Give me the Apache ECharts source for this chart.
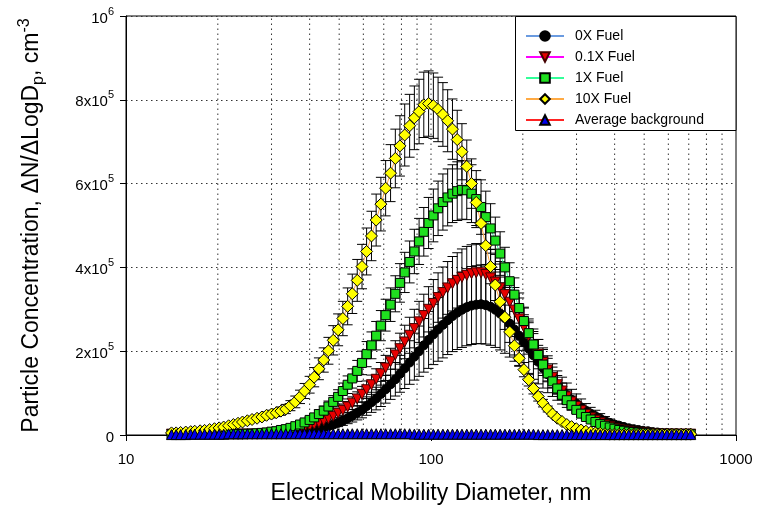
<!DOCTYPE html>
<html><head><meta charset="utf-8">
<script src="https://cdn.jsdelivr.net/npm/echarts@6/dist/echarts.min.js"></script>
<style>html,body{margin:0;padding:0;background:#fff}#c{width:764px;height:516px}</style>
</head><body><div id="c"></div>
<script>
// Electrical mobility diameters (nm)
const diameters = [14.1,14.6,15.1,15.7,16.3,16.8,17.5,18.1,18.8,19.5,
20.2,20.9,21.7,22.5,23.3,24.1,25.0,25.9,26.9,27.9,
28.9,30.0,31.1,32.2,33.4,34.6,35.9,37.2,38.5,40.0,
41.4,42.9,44.5,46.1,47.8,49.6,51.4,53.3,55.2,57.3,
59.4,61.5,63.8,66.1,68.5,71.0,73.7,76.4,79.1,82.0,
85.1,88.2,91.4,94.7,98.2,101.8,105.5,109.4,113.4,117.6,
121.9,126.3,131.0,135.8,140.7,145.9,151.2,156.8,162.5,168.5,
174.7,181.1,187.7,194.6,201.7,209.1,216.7,224.7,232.9,241.4,
250.3,259.5,269.0,278.8,289.0,299.6,310.6,322.0,333.8,346.0,
358.7,371.8,385.4,399.5,414.2,429.4,445.1,461.4,478.3,495.8,
514.0,532.8,552.3,572.5,593.5,615.3,637.8,661.2,685.4,710.5];

// Concentrations in thousands of cm^-3
const fuel0X = [2,2,2,2,2,2,2,2,2,2,
2,2,2,2,2,2,2,2,2,2,
2,2,2,3,4,5,6,7,9,10,
12,15,18,21,25,29,34,40,46,53,
60,69,78,87,98,109,121,133,146,159,
173,187,200,214,227,240,252,263,274,284,
292,299,305,309,311,312,310,306,299,290,
279,266,252,237,221,206,190,175,160,145,
131,118,106,95,84,75,66,58,51,45,
39,34,29,25,22,19,16,14,12,10,
9,7,6,5,5,4,4,3,3,3];
const err0X = [1,1,1,1,1,1,1,1,1,1,
1,1,1,1,1,1,1,1,1,1,
1,1,1,1,1,2,2,2,3,3,
4,5,5,7,8,9,11,13,15,17,
19,22,24,27,30,33,36,40,44,48,
52,56,60,64,68,72,76,79,82,85,
88,90,92,93,93,94,93,92,90,87,
84,80,76,71,66,62,57,53,48,44,
39,35,32,29,25,23,20,17,15,14,
12,10,9,8,7,6,5,4,4,3,
3,2,2,2,2,1,1,1,1,1];

const fuel01X = [2,2,2,2,2,2,2,2,2,2,
2,2,2,2,2,2,2,2,2,3,
4,5,6,7,9,11,13,15,18,21,
25,29,34,39,45,52,59,67,76,86,
97,108,120,133,146,160,175,191,206,222,
238,254,270,285,300,314,328,340,351,361,
369,376,381,385,387,387,383,375,365,351,
335,317,298,277,257,235,214,193,173,155,
137,120,105,91,79,68,58,49,41,35,
29,24,20,16,13,11,9,7,6,5,
4,3,2,2,2,2,2,2,2,2];
const err01X = [0,0,0,0,0,0,0,0,0,0,
0,0,0,0,0,0,0,0,0,1,
1,1,1,1,2,2,3,3,4,4,
5,6,7,8,9,10,12,13,15,17,
19,21,23,25,27,30,32,34,37,40,
43,46,49,51,54,57,59,61,63,65,
66,68,69,69,70,70,69,68,66,63,
60,57,54,50,46,42,39,35,31,28,
25,22,19,16,14,12,10,9,7,6,
5,4,4,3,2,2,2,1,1,1,
0,0,0,0,0,0,0,0,0,0];

const fuel1X = [2,2,2,2,2,2,2,2,2,2,
2,2,2,2,2,2,3,3,4,5,
6,8,9,12,14,17,21,25,30,36,
42,50,58,68,79,91,105,120,135,153,
172,193,214,237,261,286,311,337,363,388,
413,438,462,485,506,524,541,556,567,576,
582,585,584,576,563,544,520,493,464,433,
400,367,335,303,272,243,216,191,168,147,
128,111,96,83,71,60,51,43,37,31,
26,22,18,15,12,10,8,7,6,5,
4,3,3,2,2,2,2,2,2,2];
const err1X = [0,0,0,0,0,0,0,0,0,0,
0,0,0,0,0,0,0,0,0,1,
1,2,2,2,3,3,4,5,6,7,
8,10,11,13,15,17,19,21,23,25,
28,30,32,34,36,38,40,43,46,48,
50,53,55,58,61,63,65,67,68,69,
70,70,70,69,68,65,62,59,56,52,
48,44,40,36,33,29,26,23,20,18,
15,13,12,10,9,7,6,5,4,4,
3,3,2,2,1,1,1,1,1,1,
0,0,0,0,0,0,0,0,0,0];

const fuel10X = [5,5,6,7,8,9,10,11,13,15,
17,19,22,25,28,31,34,37,40,43,
47,50,53,57,62,70,79,91,105,120,
138,158,179,201,226,251,278,307,337,369,
402,438,475,513,551,589,625,660,690,716,
738,757,772,788,791,786,777,765,750,730,
705,676,641,600,555,505,452,402,358,318,
281,246,213,183,156,132,111,92,76,62,
50,40,32,25,20,15,12,9,7,5,
4,3,2,2,2,2,2,2,2,2,
2,2,2,2,2,2,2,2,2,2];
const err10X = [1,1,1,1,1,1,2,2,2,3,
3,3,4,4,5,5,6,6,7,7,
8,9,9,10,11,12,14,16,18,20,
23,26,29,32,35,38,41,44,47,50,
53,56,59,62,64,66,68,70,72,74,
75,76,77,78,78,78,77,76,74,72,
70,67,63,59,55,50,45,41,37,32,
29,25,22,19,17,15,13,11,9,7,
6,5,4,3,3,2,2,1,1,1,
1,1,1,1,1,1,1,1,1,1,
1,1,1,1,1,1,1,1,1,1];

const background = [1,1,1,1,2,2,2,2,2,2,
2,2,3,3,3,3,3,3,3,3,
3,3,3,3,3,3,3,3,3,3,
3,3,3,3,3,3,3,3,3,3,
3,3,3,3,3,3,3,3,3,3,
3,2,2,2,2,2,2,2,2,2,
2,2,2,2,2,2,2,2,2,2,
2,2,2,2,2,2,2,1,1,1,
1,1,1,1,1,1,1,1,1,1,
1,1,1,1,1,1,1,1,1,1,
1,1,1,1,1,1,1,1,1,1];

const seriesNames = ['0X Fuel','0.1X Fuel','1X Fuel','10X Fuel','Average background'];
const xTickLabels = {10:'10',100:'100',1000:'1000'};
const yTickBase = ['0','2x10','4x10','6x10','8x10','10'];
const yTickExp  = ['','5','5','5','5','6'];
const gridX = [20,30,40,50,60,70,80,90,100,200,300,400,500,600,700,800,900];

const FONT = '"Liberation Sans", Arial, sans-serif';
const chart = echarts.init(document.getElementById('c'), null, {renderer:'canvas'});

function pts(vals){ return diameters.map((d,i)=>[d, vals[i]*1000]); }
function errPts(vals, errs){ return diameters.map((d,i)=>[d, vals[i]*1000, errs[i]*1000]); }

function errSeries(id, vals, errs){
  return {
    type:'custom', name:id, silent:true, z:1, animation:false,
    encode:{x:0, y:1},
    data: errPts(vals, errs),
    renderItem(params, api){
      const x = api.value(0), y = api.value(1), e = api.value(2);
      if (!e) return null;
      const t = api.coord([x, y + e]);
      const b = api.coord([x, Math.max(y - e, 0)]);
      const w = 5;
      const st = {stroke:'#000', lineWidth:1};
      return {type:'group', children:[
        {type:'line', shape:{x1:t[0], y1:t[1], x2:b[0], y2:b[1]}, style:st},
        {type:'line', shape:{x1:t[0]-w, y1:t[1], x2:t[0]+w, y2:t[1]}, style:st},
        {type:'line', shape:{x1:b[0]-w, y1:b[1], x2:b[0]+w, y2:b[1]}, style:st}
      ]};
    }
  };
}

function lineSeries(name, vals, opt){
  return Object.assign({
    type:'line', name, data: pts(vals), z:3, animation:false,
    showSymbol:true, showAllSymbol:true, symbolKeepAspect:true,
    lineStyle:{width:1}
  }, opt);
}

const gridSeries = {
  type:'custom', name:'grid', silent:true, z:0, animation:false,
  encode:{x:0},
  data: gridX.map(v=>[v]),
  renderItem(params, api){
    const v = api.value(0);
    const p0 = api.coord([v, 0]);
    const p1 = api.coord([v, 1e6]);
    return {type:'line', shape:{x1:p0[0], y1:p0[1], x2:p1[0], y2:p1[1]},
      style:{stroke:'#333', lineWidth:1, lineDash:[1.5,3.5]}};
  }
};

const option = {
  backgroundColor:'#fff',
  animation:false,
  grid:{left:126, right:28, top:16, bottom:81, show:true, borderColor:'#000', borderWidth:1, backgroundColor:'transparent'},
  xAxis:{
    type:'log', logBase:10, min:10, max:1000,
    name:'Electrical Mobility Diameter, nm', nameLocation:'middle', nameGap:47,
    nameTextStyle:{fontFamily:FONT, fontSize:23, color:'#000'},
    axisLine:{lineStyle:{color:'#000', width:1}},
    axisTick:{show:true, length:6, lineStyle:{color:'#000'}},
    axisLabel:{fontFamily:FONT, fontSize:15, color:'#000', margin:17,
      formatter:(v)=> xTickLabels[Math.round(v)] || ''},
    splitLine:{show:false}, minorTick:{show:false}
  },
  yAxis:{
    type:'value', min:0, max:1000000, interval:200000,
    name:'Particle Concentration, ΔN/ΔLogD{sub|p}, cm{sup|-3}',
    nameLocation:'middle', nameRotate:90, nameGap:79,
    nameTextStyle:{fontFamily:FONT, fontSize:23, color:'#000', lineHeight:30,
      rich:{
        sub:{fontFamily:FONT, fontSize:16, color:'#000', verticalAlign:'bottom', lineHeight:15},
        sup:{fontFamily:FONT, fontSize:16, color:'#000', verticalAlign:'top', lineHeight:15}
      }},
    axisLine:{show:true, lineStyle:{color:'#000', width:1}},
    axisTick:{show:true, length:6, lineStyle:{color:'#000'}},
    axisLabel:{margin:12, color:'#000',
      formatter:(v)=>{ const k=Math.round(v/200000); const b=yTickBase[k], e=yTickExp[k];
        return e ? '{b|'+b+'}{e|'+e+'}' : '{b|'+b+'}'; },
      rich:{
        b:{fontFamily:FONT, fontSize:15, color:'#000', lineHeight:20, verticalAlign:'bottom'},
        e:{fontFamily:FONT, fontSize:11, color:'#000', lineHeight:11, verticalAlign:'top'}
      }},
    splitLine:{show:true, lineStyle:{color:'#333', width:1, type:[1.5,3.5]}}
  },
  legend:{
    orient:'vertical', left:520, top:24, itemWidth:38, itemHeight:12, itemGap:7,
    selectedMode:false, z:10,
    data: seriesNames,
    textStyle:{fontFamily:FONT, fontSize:14, color:'#000', lineHeight:14, padding:[0,0,0,6]}
  },
  graphic:[{type:'rect', z:8, silent:true,
    shape:{x:515.5, y:16.5, width:220.5, height:114},
    style:{fill:'#fff', stroke:'#000', lineWidth:1}}],
  series:[
    gridSeries,
    errSeries('e0', fuel0X, err0X),
    errSeries('e01', fuel01X, err01X),
    errSeries('e1', fuel1X, err1X),
    errSeries('e10', fuel10X, err10X),
    lineSeries(seriesNames[0], fuel0X, {symbol:'circle', symbolSize:9,
      itemStyle:{color:'#000', borderColor:'#000', borderWidth:1}, lineStyle:{color:'#6a9be0', width:1}}),
    lineSeries(seriesNames[1], fuel01X, {symbol:'triangle', symbolRotate:180, symbolSize:10,
      itemStyle:{color:'#e80000', borderColor:'#400', borderWidth:1}, lineStyle:{color:'#ff00ff', width:1}}),
    lineSeries(seriesNames[2], fuel1X, {symbol:'rect', symbolSize:9,
      itemStyle:{color:'#1fe01f', borderColor:'#000', borderWidth:1}, lineStyle:{color:'#33ff99', width:1}}),
    lineSeries(seriesNames[3], fuel10X, {symbol:'diamond', symbolSize:12,
      itemStyle:{color:'#ffff00', borderColor:'#000', borderWidth:1}, lineStyle:{color:'#ffaa44', width:1}}),
    lineSeries(seriesNames[4], background, {symbol:'triangle', symbolSize:10,
      itemStyle:{color:'#0000ee', borderColor:'#000', borderWidth:1}, lineStyle:{color:'#ff2222', width:1}})
  ]
};
chart.setOption(option);
</script></body></html>
